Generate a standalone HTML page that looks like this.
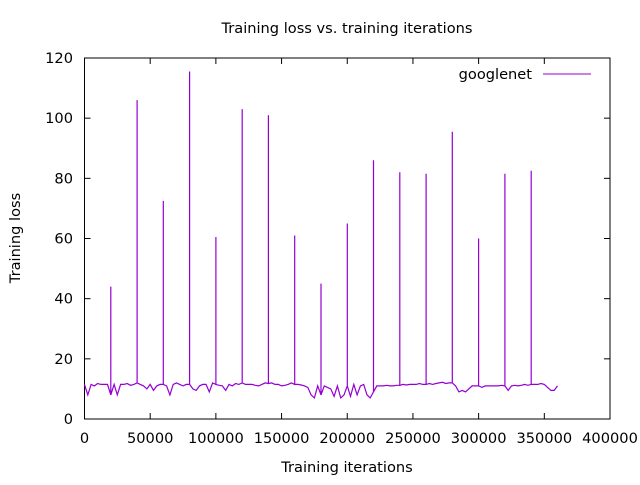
<!DOCTYPE html>
<html><head><meta charset="utf-8"><style>
body{margin:0;background:#fff}
svg text{font-family:"DejaVu Sans","Liberation Sans",sans-serif;font-size:14.6px;fill:#000}
</style></head><body>
<svg id="chart" width="640" height="480">
<text x="347" y="33" text-anchor="middle">Training loss vs. training iterations</text>
<text x="347" y="472" text-anchor="middle">Training iterations</text>
<text transform="translate(20,238) rotate(-90)" text-anchor="middle">Training loss</text>
<g id="axes"></g>
<g id="series"></g>
<g>
<text x="532" y="79" text-anchor="end">googlenet</text>
<line x1="543" y1="74" x2="591" y2="74" stroke="#9400d3" stroke-width="1"/>
</g>
</svg>
<script>
const xTicks=[0,50000,100000,150000,200000,250000,300000,350000,400000];
const yTicks=[0,20,40,60,80,100,120];
const baseIters=[0,2500,5000,7500,10000,12500,15000,17500,20000,22500,25000,27500,30000,32500,35000,37500,40000,42500,45000,47500,50000,52500,55000,57500,60000,62500,65000,67500,70000,72500,75000,77500,80000,82500,85000,87500,90000,92500,95000,97500,100000,102500,105000,107500,110000,112500,115000,117500,120000,122500,125000,127500,130000,132500,135000,137500,140000,142500,145000,147500,150000,152500,155000,157500,160000,162500,165000,167500,170000,172500,175000,177500,180000,182500,185000,187500,190000,192500,195000,197500,200000,202500,205000,207500,210000,212500,215000,217500,220000,222500,225000,227500,230000,232500,235000,237500,240000,242500,245000,247500,250000,252500,255000,257500,260000,262500,265000,267500,270000,272500,275000,277500,280000,282500,285000,287500,290000,292500,295000,297500,300000,302500,305000,307500,310000,312500,315000,317500,320000,322500,325000,327500,330000,332500,335000,337500,340000,342500,345000,347500,350000,352500,355000,357500,360000];
const baseLoss=[11.5,8,11.5,11,11.8,11.5,11.5,11.5,8,11.5,8,11.5,11.5,11.8,11.2,11.5,12,11.5,11,10,11.5,9.5,11,11.5,11.5,11,8,11.5,12,11.5,11,11.5,11.5,10,9.5,11,11.5,11.5,9,12,11.5,11.2,11,9.5,11.5,11,11.8,11.5,12,11.5,11.5,11.5,11.2,11,11.5,12,11.8,12,11.5,11.5,11,11.2,11.5,12,11.5,11.5,11.3,11,10.5,8,7,11,8,11,10.5,10,7.5,11,7,8,11,7.5,11.5,8,11,11.5,8,7,9,11,11,11,11.2,11,11,11.2,11.2,11.5,11.3,11.5,11.5,11.5,11.8,11.5,11.5,11.8,11.5,11.8,12,12.2,11.8,12,12,11,9,9.5,9,10,11,11,11,10.5,11,11,11,11,11,11.2,11,9.5,11,11.2,11,11.2,11.5,11.2,11.5,11.5,11.5,11.8,11.5,10.5,9.5,9.5,11];
const spikeIters=[20000,40000,60000,80000,100000,120000,140000,160000,180000,200000,220000,240000,260000,280000,300000,320000,340000];
const spikeLoss=[44,106,72.5,115.5,60.5,103,101,61,45,65,86,82,81.5,95.5,60,81.5,82.5];
const X0=84.5,X1=610,Y0=419,Y1=58;
const sx=v=>X0+(v/400000)*(X1-X0);
const sy=v=>Y0-(v/120)*(Y0-Y1);
const NS="http://www.w3.org/2000/svg";
const axes=document.getElementById('axes');
function mk(tag,attrs,parent){const e=document.createElementNS(NS,tag);for(const k in attrs)e.setAttribute(k,attrs[k]);parent.appendChild(e);return e;}
const frame=mk('rect',{x:X0,y:Y1,width:X1-X0,height:Y0-Y1,fill:'none',stroke:'#000','stroke-width':1},axes);


xTicks.forEach(t=>{const x=sx(t);
 const a=mk('line',{x1:x,y1:Y0,x2:x,y2:Y0-6,stroke:'#000'},axes);
 
 
 const b=mk('line',{x1:x,y1:Y1,x2:x,y2:Y1+6,stroke:'#000'},axes);
 
 
 const l=mk('text',{x:x,y:443,'text-anchor':'middle'},axes);l.textContent=t;
 
 
});
yTicks.forEach(t=>{const y=sy(t);
 const a=mk('line',{x1:X0,y1:y,x2:X0+6,y2:y,stroke:'#000'},axes);
 
 
 const b=mk('line',{x1:X1,y1:y,x2:X1-6,y2:y,stroke:'#000'},axes);
 
 
 const l=mk('text',{x:73,y:y+5,'text-anchor':'end'},axes);l.textContent=t;
 
 
});
const pts=[];
baseIters.forEach((it,i)=>{pts.push([it,baseLoss[i]]);const k=spikeIters.indexOf(it);if(k>=0){pts.push([it,spikeLoss[k]]);pts.push([it,baseLoss[i]]);}});
const d=pts.map((p,i)=>(i?'L':'M')+sx(p[0]).toFixed(1)+' '+sy(p[1]).toFixed(1)).join(' ');
const line=mk('path',{d:d,fill:'none',stroke:'#9400d3','stroke-width':1.2},document.getElementById('series'));


</script>
</body></html>
